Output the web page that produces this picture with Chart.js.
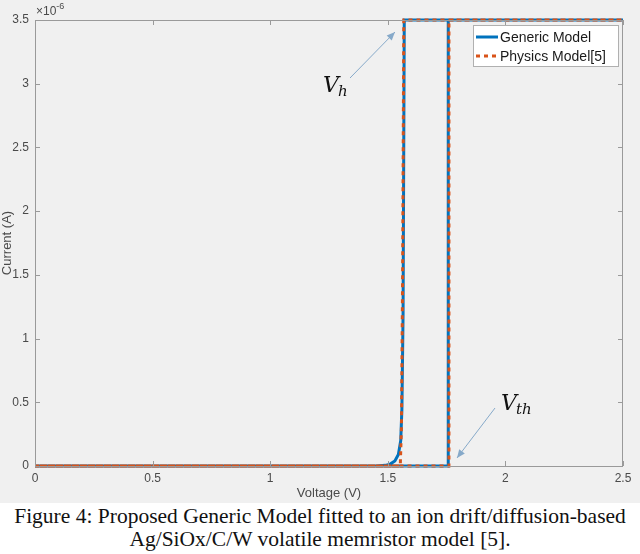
<!DOCTYPE html>
<html>
<head>
<meta charset="utf-8">
<script src="https://cdn.jsdelivr.net/npm/chart.js@4/dist/chart.umd.min.js"></script>
<style>
  html, body { margin: 0; padding: 0; background: #ffffff; }
  #wrap { width: 640px; height: 503px; background: #f0f0f0; position: relative; }
  #caption { width: 640px; text-align: center; font-family: "Liberation Serif", "Times New Roman", serif;
             font-size: 21.5px; line-height: 23px; color: #111; margin-top: 2px; }
</style>
</head>
<body>
<div id="wrap"><canvas id="c" width="640" height="503"></canvas></div>
<div id="caption">Figure 4: Proposed Generic Model fitted to an ion drift/diffusion-based<br>Ag/SiOx/C/W volatile memristor model [5].</div>
<script>
// ---- data (current in units of 1e-6 A) ----
const seriesNames = ["Generic Model", "Physics Model[5]"];
const genericV = [0, 0.5, 1.0, 1.45, 1.49, 1.51, 1.53, 1.545, 1.555, 1.56, 1.565, 1.57, 2.0, 2.5, 2.0, 1.757, 1.757, 1.0, 0];
const genericI = [0, 0, 0, 0, 0.005, 0.015, 0.04, 0.09, 0.2, 0.45, 1.2, 3.5, 3.5, 3.5, 3.5, 3.5, 0, 0, 0];
const physicsV = [0, 0.5, 1.0, 1.5, 1.553, 1.558, 1.563, 1.568, 2.0, 2.5, 2.0, 1.76, 1.76, 1.0, 0];
const physicsI = [0, 0, 0, 0, 0, 0.3, 1.5, 3.5, 3.5, 3.5, 3.5, 3.5, 0, 0, 0];
const xTicks = [0, 0.5, 1, 1.5, 2, 2.5];
const yTicks = [0, 0.5, 1, 1.5, 2, 2.5, 3, 3.5];

const toPts = (xs, ys) => xs.map((x, i) => ({x: x, y: ys[i]}));
const blue = "#0072BD", orange = "#D95319";
const tickColor = "#4a4a4a", axisColor = "#9a9a9a";
const tickFont = {family: "Liberation Sans, Arial, sans-serif", size: 12};
const titleFont = {family: "Liberation Sans, Arial, sans-serif", size: 13};

const decor = {
  id: "decor",
  afterDatasetsDraw(chart) {
    const ctx = chart.ctx, a = chart.chartArea;
    const xs = chart.scales.x, ys = chart.scales.y;
    ctx.save();
    // box
    ctx.strokeStyle = axisColor; ctx.lineWidth = 1;
    ctx.strokeRect(a.left + 0.5, a.top + 0.5, a.right - a.left - 1, a.bottom - a.top);
    // inward ticks
    const L = 5;
    ctx.beginPath();
    xTicks.forEach(v => {
      const p = Math.round(xs.getPixelForValue(v)) + 0.5;
      ctx.moveTo(p, a.bottom); ctx.lineTo(p, a.bottom - L);
      ctx.moveTo(p, a.top); ctx.lineTo(p, a.top + L);
    });
    yTicks.forEach(v => {
      const p = Math.round(ys.getPixelForValue(v)) + 0.5;
      ctx.moveTo(a.left, p); ctx.lineTo(a.left + L, p);
      ctx.moveTo(a.right, p); ctx.lineTo(a.right - L, p);
    });
    ctx.stroke();
    // exponent label
    ctx.fillStyle = tickColor;
    ctx.textBaseline = "alphabetic"; ctx.textAlign = "left";
    ctx.font = "12px Liberation Sans, Arial, sans-serif";
    ctx.fillText("\u00d710", a.left + 1, a.top - 5);
    const w = ctx.measureText("\u00d710").width;
    ctx.font = "9px Liberation Sans, Arial, sans-serif";
    ctx.fillText("-6", a.left + 1 + w, a.top - 11);
    // legend
    const lx = 473, ly = 25, lw = 145, lh = 41;
    ctx.fillStyle = "#ffffff";
    ctx.fillRect(lx, ly, lw, lh);
    ctx.strokeStyle = "#b0b0b0"; ctx.lineWidth = 1;
    ctx.strokeRect(lx + 0.5, ly + 0.5, lw, lh);
    const dsets = chart.data.datasets;
    const rows = [ly + 12, ly + 31];
    [0, 1].forEach(i => {
      const d = dsets[i];
      ctx.strokeStyle = d.borderColor; ctx.lineWidth = 3;
      ctx.setLineDash(d.borderDash || []);
      ctx.beginPath(); ctx.moveTo(lx + 3, rows[i]); ctx.lineTo(lx + 25, rows[i]); ctx.stroke();
      ctx.setLineDash([]);
      ctx.fillStyle = "#1a1a1a";
      ctx.font = "14px Liberation Sans, Arial, sans-serif";
      ctx.textBaseline = "middle";
      ctx.fillText(d.label, lx + 27, rows[i] + 1);
    });
    // annotations: arrows
    const arrowCol = "#86a9c9";
    function arrow(x1, y1, x2, y2) {
      ctx.strokeStyle = arrowCol; ctx.fillStyle = arrowCol; ctx.lineWidth = 1;
      ctx.beginPath(); ctx.moveTo(x1, y1); ctx.lineTo(x2, y2); ctx.stroke();
      const ang = Math.atan2(y2 - y1, x2 - x1), h = 9, s = 0.4;
      ctx.beginPath();
      ctx.moveTo(x2, y2);
      ctx.lineTo(x2 - h * Math.cos(ang - s), y2 - h * Math.sin(ang - s));
      ctx.lineTo(x2 - h * Math.cos(ang + s), y2 - h * Math.sin(ang + s));
      ctx.closePath(); ctx.fill();
    }
    arrow(350, 78, 395, 32);
    arrow(495, 408, 457, 458);
    // annotation text
    ctx.fillStyle = "#111";
    ctx.textBaseline = "alphabetic"; ctx.textAlign = "left";
    ctx.font = "italic 22px DejaVu Serif, Liberation Serif, serif";
    ctx.fillText("V", 323, 92);
    ctx.font = "italic 15px DejaVu Serif, Liberation Serif, serif";
    ctx.fillText("h", 338, 96);
    ctx.font = "italic 22px DejaVu Serif, Liberation Serif, serif";
    ctx.fillText("V", 501, 410);
    ctx.font = "italic 15px DejaVu Serif, Liberation Serif, serif";
    ctx.fillText("th", 516, 414);
    ctx.restore();
  }
};

new Chart(document.getElementById("c"), {
  type: "line",
  data: {
    datasets: [
      { label: seriesNames[0], data: toPts(genericV, genericI), borderColor: blue, borderWidth: 3,
        pointRadius: 0, tension: 0, fill: false, clip: 6, order: 2 },
      { label: seriesNames[1], data: toPts(physicsV, physicsI), borderColor: orange, borderWidth: 3,
        borderDash: [4, 4], pointRadius: 0, tension: 0, fill: false, clip: 6, order: 1 }
    ]
  },
  options: {
    responsive: false, animation: false, devicePixelRatio: 1,
    layout: { padding: { top: 20, right: 17, left: 0, bottom: 0 } },
    plugins: { legend: { display: false }, tooltip: { enabled: false } },
    scales: {
      x: {
        type: "linear", min: 0, max: 2.5,
        afterBuildTicks: s => { s.ticks = xTicks.map(v => ({value: v})); },
        afterFit: s => { s.height = 37; },
        grid: { display: false, drawTicks: false }, border: { display: false },
        ticks: { color: tickColor, font: tickFont, padding: 5, maxRotation: 0, callback: v => String(v) },
        title: { display: true, text: "Voltage (V)", color: tickColor, font: titleFont, padding: { top: 0, bottom: 2 } }
      },
      y: {
        type: "linear", min: 0, max: 3.5,
        afterBuildTicks: s => { s.ticks = yTicks.map(v => ({value: v})); },
        afterFit: s => { s.width = 35; },
        grid: { display: false, drawTicks: false }, border: { display: false },
        ticks: { color: tickColor, font: tickFont, padding: 6, callback: v => String(v) },
        title: { display: true, text: "Current (A)", color: tickColor, font: titleFont, padding: { top: 0, bottom: 0 } }
      }
    }
  },
  plugins: [decor]
});
</script>
</body>
</html>
